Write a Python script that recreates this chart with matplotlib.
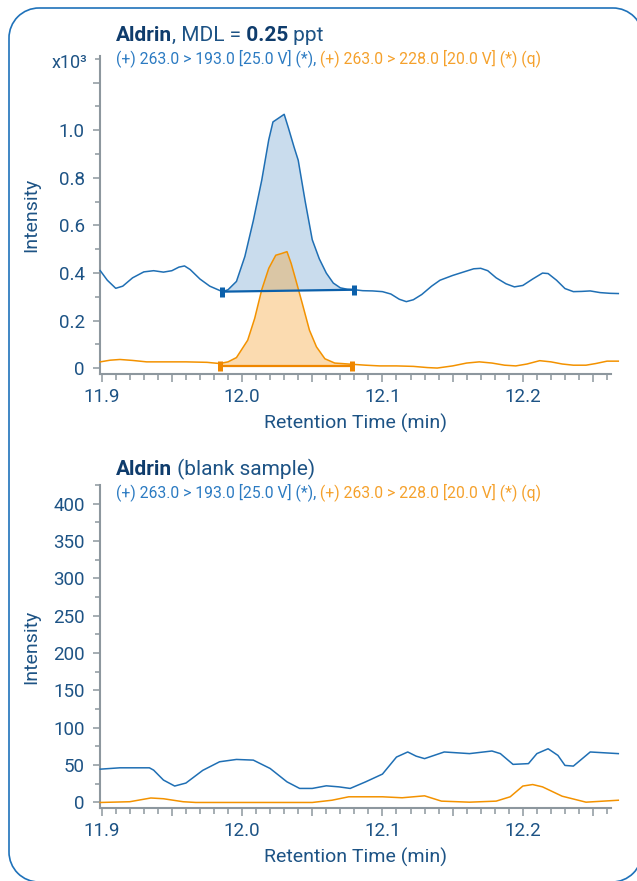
import matplotlib
matplotlib.use("Agg")
import matplotlib.pyplot as plt
from matplotlib.patches import Arc
from matplotlib.ticker import MultipleLocator

plt.rcParams["font.family"] = ["Roboto", "DejaVu Sans"]

W, H = 637, 881

# --- top panel: Aldrin, MDL = 0.25 ppt (intensity in x10^3) ---
# quantifier transition 263 > 193 (blue)
t_top_quant = [11.899, 11.904, 11.910, 11.915, 11.922, 11.930, 11.937, 11.944, 11.950, 11.955,
               11.959, 11.963, 11.970, 11.977, 11.986, 11.990, 11.996, 12.002, 12.008, 12.014,
               12.019, 12.022, 12.027, 12.030, 12.033, 12.037, 12.040, 12.045, 12.050, 12.055,
               12.060, 12.065, 12.070, 12.075, 12.080, 12.086, 12.093, 12.100, 12.106, 12.112,
               12.117, 12.122, 12.128, 12.135, 12.141, 12.150, 12.158, 12.165, 12.170, 12.175,
               12.181, 12.188, 12.194, 12.200, 12.207, 12.214, 12.218, 12.224, 12.230, 12.236,
               12.242, 12.248, 12.255, 12.262, 12.268]
i_top_quant = [0.410, 0.370, 0.336, 0.345, 0.380, 0.405, 0.410, 0.404, 0.410, 0.425,
               0.430, 0.415, 0.375, 0.345, 0.322, 0.330, 0.365, 0.470, 0.620, 0.790,
               0.960, 1.035, 1.055, 1.067, 1.010, 0.930, 0.874, 0.700, 0.540, 0.460,
               0.400, 0.358, 0.338, 0.332, 0.330, 0.326, 0.325, 0.322, 0.312, 0.290,
               0.280, 0.288, 0.310, 0.345, 0.370, 0.390, 0.405, 0.418, 0.420, 0.410,
               0.380, 0.355, 0.342, 0.348, 0.375, 0.400, 0.398, 0.370, 0.335, 0.322,
               0.323, 0.325, 0.318, 0.315, 0.314]
# qualifier transition 263 > 228 (orange)
t_top_qual = [11.899, 11.906, 11.913, 11.922, 11.932, 11.945, 11.960, 11.975, 11.984, 11.990,
              11.996, 12.004, 12.009, 12.014, 12.019, 12.024, 12.028, 12.032, 12.035, 12.038,
              12.043, 12.048, 12.053, 12.059, 12.066, 12.078, 12.088, 12.098, 12.110, 12.122,
              12.132, 12.139, 12.150, 12.160, 12.169, 12.178, 12.187, 12.195, 12.203, 12.212,
              12.220, 12.228, 12.236, 12.245, 12.252, 12.260, 12.268]
i_top_qual = [0.027, 0.034, 0.037, 0.033, 0.027, 0.027, 0.027, 0.025, 0.020, 0.027,
              0.045, 0.118, 0.210, 0.330, 0.420, 0.475, 0.482, 0.490, 0.440, 0.377,
              0.270, 0.160, 0.090, 0.040, 0.022, 0.017, 0.013, 0.010, 0.010, 0.008,
              0.003, 0.001, 0.010, 0.022, 0.027, 0.022, 0.013, 0.010, 0.018, 0.032,
              0.027, 0.018, 0.013, 0.013, 0.020, 0.030, 0.030]
# integration baselines (start, end)
base_quant_t = [11.986, 12.080]
base_quant_i = [0.322, 0.330]
base_qual_t = [11.984, 12.078]
base_qual_i = [0.008, 0.008]

# --- bottom panel: blank sample (intensity counts) ---
t_blank_quant = [11.899, 11.913, 11.934, 11.937, 11.944, 11.952, 11.960, 11.972, 11.984, 11.996,
                 12.008, 12.020, 12.032, 12.041, 12.050, 12.060, 12.069, 12.077, 12.088, 12.100,
                 12.110, 12.118, 12.124, 12.130, 12.144, 12.162, 12.178, 12.184, 12.193, 12.204,
                 12.210, 12.218, 12.225, 12.230, 12.236, 12.248, 12.268]
i_blank_quant = [44.6, 46.4, 46.4, 43.3, 30, 22, 26, 43, 54.5, 57.6,
                 56.7, 45.5, 27.6, 18.8, 18.8, 22.3, 20.9, 18.8, 27.6, 38,
                 60.8, 67.6, 62, 58.7, 67.6, 65.4, 68.9, 65.4, 51, 52,
                 65.4, 71.9, 63, 49.6, 48.7, 67.6, 65.4]
t_blank_qual = [11.899, 11.920, 11.935, 11.944, 11.958, 11.967, 12.050, 12.064, 12.076, 12.100,
                12.114, 12.130, 12.142, 12.162, 12.181, 12.191, 12.200, 12.207, 12.214, 12.228,
                12.245, 12.268]
i_blank_qual = [0, 1, 6, 5, 1, 0, 0, 3, 7.6, 7.6,
                6.3, 8.9, 1.8, 0.4, 1.8, 7.6, 22, 24, 20.9, 8.4,
                0.4, 3]

x_ticks = [11.9, 11.95, 12.0, 12.05, 12.1, 12.15, 12.2, 12.25]
x_labels = ["11.9", "", "12.0", "", "12.1", "", "12.2", ""]
top_yticks = [0, 0.2, 0.4, 0.6, 0.8, 1.0, 1.2]
top_ylabels = ["0", "0.2", "0.4", "0.6", "0.8", "1.0", ""]
bot_yticks = [0, 50, 100, 150, 200, 250, 300, 350, 400]
bot_ylabels = [str(v) for v in bot_yticks]

BLUE = "#1f6fb4"
BLUE_MK = "#0b60ab"
ORANGE = "#f39200"
ORANGE_MK = "#ef8700"
NAVY = "#1d5385"
NAVY_DARK = "#0f3c6c"
SUB_BLUE = "#2c7bc2"
SUB_ORANGE = "#f5a12c"
GREY = "#8d979e"
BORDER = "#1f72ba"

fig = plt.figure(figsize=(W / 100, H / 100), dpi=100)

# rounded frame, drawn in pixel units (y up); right and bottom edges fall off the page
bg = fig.add_axes([0, 0, 1, 1], zorder=-1)
bg.set_xlim(0, W)
bg.set_ylim(0, H)
bg.axis("off")
R = 30
kw = dict(color=BORDER, lw=1.2, clip_on=False)
bg.plot([9, 9], [H - 38, H - 852], solid_capstyle="butt", **kw)
bg.plot([39, 613], [H - 8, H - 8], solid_capstyle="butt", **kw)
for cx, cy, a0, a1 in [(39, 38, 90, 180), (39, 852, 180, 270), (613, 38, 0, 90), (612, 852, 270, 360)]:
    bg.add_patch(Arc((cx, H - cy), 2 * R, 2 * R, theta1=a0, theta2=a1,
                     ec=BORDER, lw=1.2, clip_on=False))


def fx(px):
    return px / W


def fy(py):
    return 1 - py / H


def style(ax, yticks, ylabels, ylim, yminor):
    ax.set_xlim(11.8988, 12.2628)
    ax.set_ylim(*ylim)
    for s in ["top", "right"]:
        ax.spines[s].set_visible(False)
    for s in ["left", "bottom"]:
        ax.spines[s].set_color(GREY)
        ax.spines[s].set_linewidth(1.5)
    ax.set_xticks(x_ticks)
    ax.set_xticklabels(x_labels)
    ax.xaxis.set_minor_locator(MultipleLocator(0.01))
    ax.set_yticks(yticks)
    ax.set_yticklabels(ylabels)
    ax.yaxis.set_minor_locator(MultipleLocator(yminor))
    ax.tick_params(which="major", axis="x", length=6, width=1.1, color=GREY,
                   labelcolor=NAVY, labelsize=13.5, pad=4)
    ax.tick_params(which="minor", axis="x", length=4, width=1.1, color=GREY)
    ax.tick_params(which="major", axis="y", length=5, width=1.1, color=GREY,
                   labelcolor=NAVY, labelsize=13.5, pad=6)
    ax.tick_params(which="minor", axis="y", length=3.5, width=1.1, color=GREY)
    ax.set_xlabel("Retention Time (min)", color=NAVY, fontsize=14, labelpad=6)
    ax.set_ylabel("Intensity", color=NAVY, fontsize=14)
    ax.yaxis.set_label_coords(-0.117, 0.5)
    ax.patch.set_alpha(0)


def rich(x, y, parts, size):
    r = fig.canvas.get_renderer()
    for s, c, w in parts:
        t = fig.text(fx(x), fy(y), s, color=c, fontweight=w, fontsize=size, va="baseline")
        x = t.get_window_extent(r).x1


# top panel
ax1 = fig.add_axes([fx(100), fy(374), 511 / W, (374 - 56) / H])
poly_t = [base_quant_t[0]] + [t for t in t_top_quant if base_quant_t[0] <= t <= base_quant_t[1]] + [base_quant_t[1]]
poly_i = [base_quant_i[0]] + [v for t, v in zip(t_top_quant, i_top_quant)
                              if base_quant_t[0] <= t <= base_quant_t[1]] + [base_quant_i[1]]
ax1.fill(poly_t, poly_i, color=BLUE, alpha=0.24, lw=0, zorder=1)
poly_t = [base_qual_t[0]] + [t for t in t_top_qual if base_qual_t[0] <= t <= base_qual_t[1]] + [base_qual_t[1]]
poly_i = [base_qual_i[0]] + [v for t, v in zip(t_top_qual, i_top_qual)
                             if base_qual_t[0] <= t <= base_qual_t[1]] + [base_qual_i[1]]
ax1.fill(poly_t, poly_i, color="#f5a53a", alpha=0.4, lw=0, zorder=2)
ax1.plot(t_top_quant, i_top_quant, color=BLUE, lw=1.1, zorder=3, clip_on=False)
ax1.plot(t_top_qual, i_top_qual, color=ORANGE, lw=1.1, zorder=4, clip_on=False)
ax1.plot(base_quant_t, base_quant_i, color=BLUE_MK, lw=1.6, zorder=5)
ax1.plot(base_qual_t, base_qual_i, color=ORANGE_MK, lw=1.6, zorder=5)
ax1.plot(base_quant_t, base_quant_i, ls="none", marker="|", ms=7, mew=3.6, color=BLUE_MK, zorder=6)
ax1.plot(base_qual_t, base_qual_i, ls="none", marker="|", ms=7, mew=3.6, color=ORANGE_MK, zorder=6)
style(ax1, top_yticks, top_ylabels, (-0.024, 1.312), 0.1)

fig.text(fx(87), fy(68), "x10\u00b3", color=NAVY, fontsize=13, ha="right", va="baseline")
rich(116, 41, [("Aldrin", NAVY_DARK, "bold"), (", MDL =", NAVY, "normal"),
               (" 0.25", NAVY_DARK, "bold"), (" ppt", NAVY, "normal")], 15)
rich(116, 63, [("(+) 263.0 > 193.0 [25.0 V] (*),", SUB_BLUE, "normal"),
               (" (+) 263.0 > 228.0 [20.0 V] (*) (q)", SUB_ORANGE, "normal")], 11.3)

# bottom panel
ax2 = fig.add_axes([fx(100), fy(808), 511 / W, (808 - 485) / H])
ax2.plot(t_blank_quant, i_blank_quant, color=BLUE, lw=1.1, zorder=3, clip_on=False)
ax2.plot(t_blank_qual, i_blank_qual, color=ORANGE, lw=1.1, zorder=4, clip_on=False)
style(ax2, bot_yticks, bot_ylabels, (-7.4, 425), 25)

rich(116, 475, [("Aldrin", NAVY_DARK, "bold"), (" (blank sample)", NAVY, "normal")], 15)
rich(116, 497, [("(+) 263.0 > 193.0 [25.0 V] (*),", SUB_BLUE, "normal"),
                (" (+) 263.0 > 228.0 [20.0 V] (*) (q)", SUB_ORANGE, "normal")], 11.3)

fig.savefig("out.png", dpi=100, facecolor="white")
